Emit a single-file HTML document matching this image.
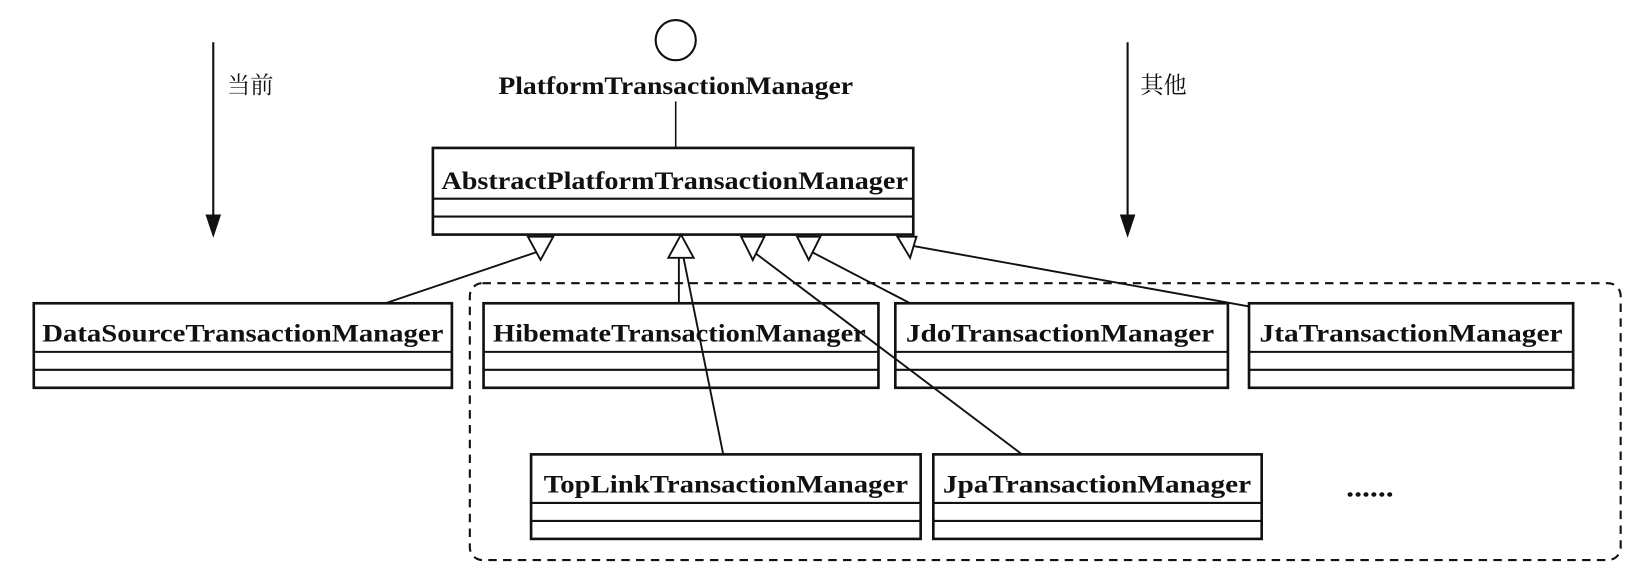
<!DOCTYPE html>
<html><head><meta charset="utf-8"><style>
html,body{margin:0;padding:0;background:#fff;}
svg{display:block;}
text{font-family:"Liberation Serif","Noto Serif CJK SC",serif;font-weight:bold;fill:#111;}
.cn{font-family:"Liberation Serif","Noto Serif CJK SC",serif;font-weight:normal;}
</style></head><body>
<svg width="1646" height="578" viewBox="0 0 1559 547" preserveAspectRatio="none" xmlns="http://www.w3.org/2000/svg">
<g stroke="#111" fill="none" stroke-width="2">
<line x1="202" y1="40" x2="202" y2="205"/>
<path d="M196,204 L202,222 L208,204 Z" fill="#111"/>
<line x1="1068" y1="40" x2="1068" y2="205"/>
<path d="M1062,204 L1068,222 L1074,204 Z" fill="#111"/>
<circle cx="640" cy="38" r="19"/>
<line x1="640" y1="96" x2="640" y2="140" stroke-width="1.5"/>
<rect x="410" y="140" width="455" height="82" stroke-width="2.5"/>
<line x1="410" y1="188" x2="865" y2="188"/>
<line x1="410" y1="205" x2="865" y2="205"/>
<rect x="445" y="268" width="1090" height="262" rx="12" stroke-dasharray="8,6" stroke-width="2"/>
<rect x="32" y="287" width="396" height="80" stroke-width="2.5"/>
<line x1="32" y1="333" x2="428" y2="333"/><line x1="32" y1="350" x2="428" y2="350"/>
<rect x="458" y="287" width="374" height="80" stroke-width="2.5"/>
<line x1="458" y1="333" x2="832" y2="333"/><line x1="458" y1="350" x2="832" y2="350"/>
<rect x="848" y="287" width="315" height="80" stroke-width="2.5"/>
<line x1="848" y1="333" x2="1163" y2="333"/><line x1="848" y1="350" x2="1163" y2="350"/>
<rect x="1183" y="287" width="307" height="80" stroke-width="2.5"/>
<line x1="1183" y1="333" x2="1490" y2="333"/><line x1="1183" y1="350" x2="1490" y2="350"/>
<rect x="503" y="430" width="369" height="80" stroke-width="2.5"/>
<line x1="503" y1="476" x2="872" y2="476"/><line x1="503" y1="493" x2="872" y2="493"/>
<rect x="884" y="430" width="311" height="80" stroke-width="2.5"/>
<line x1="884" y1="476" x2="1195" y2="476"/><line x1="884" y1="493" x2="1195" y2="493"/>
<line x1="365" y1="287" x2="510" y2="238" stroke-width="1.8"/>
<line x1="643" y1="287" x2="643" y2="242" stroke-width="1.8"/>
<line x1="685" y1="430" x2="647" y2="242" stroke-width="1.8"/>
<line x1="968" y1="430" x2="716" y2="240" stroke-width="1.8"/>
<line x1="862" y1="287" x2="768" y2="238" stroke-width="1.8"/>
<line x1="1183" y1="290" x2="866" y2="233" stroke-width="1.8"/>
<g fill="#fff" stroke-width="1.8">
<path d="M500,224 L524,224 L512,246 Z"/>
<path d="M633,244 L657,244 L645,222 Z"/>
<path d="M702,224 L724,224 L713,246 Z"/>
<path d="M755,224 L777,224 L766,246 Z"/>
<path d="M850,224 L868,224 L862,244 Z"/>
</g>
</g>
<text x="472" y="89" font-size="24" textLength="336" lengthAdjust="spacingAndGlyphs">PlatformTransactionManager</text>
<text x="418" y="179" font-size="24" textLength="442" lengthAdjust="spacingAndGlyphs">AbstractPlatformTransactionManager</text>
<text x="40" y="323" font-size="24" textLength="380" lengthAdjust="spacingAndGlyphs">DataSourceTransactionManager</text>
<text x="467" y="323" font-size="24" textLength="353" lengthAdjust="spacingAndGlyphs">HibemateTransactionManager</text>
<text x="858" y="323" font-size="24" textLength="292" lengthAdjust="spacingAndGlyphs">JdoTransactionManager</text>
<text x="1193" y="323" font-size="24" textLength="287" lengthAdjust="spacingAndGlyphs">JtaTransactionManager</text>
<text x="515" y="466" font-size="24" textLength="345" lengthAdjust="spacingAndGlyphs">TopLinkTransactionManager</text>
<text x="893" y="466" font-size="24" textLength="292" lengthAdjust="spacingAndGlyphs">JpaTransactionManager</text>
<text x="1275" y="470" font-size="26" textLength="45" lengthAdjust="spacingAndGlyphs">......</text>
<text class="cn" x="215" y="88" font-size="22">当前</text>
<text class="cn" x="1080" y="88" font-size="22">其他</text>
</svg>
</body></html>
